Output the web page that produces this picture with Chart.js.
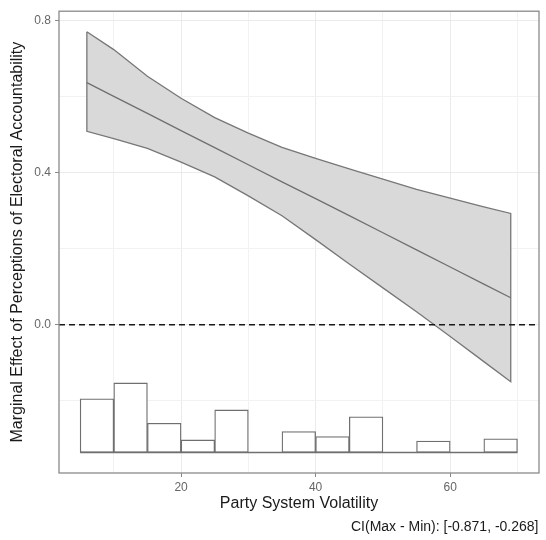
<!DOCTYPE html>
<html><head><meta charset="utf-8">
<script src="https://cdn.jsdelivr.net/npm/chart.js@4.4.0/dist/chart.umd.min.js"></script>
<style>html,body{margin:0;padding:0;background:#fff}#wrap{width:546px;height:540px;position:relative}</style>
</head><body><div id="wrap"><canvas id="c"></canvas></div>
<script>
// ---- data ----
const volatility = [6, 10, 15, 20, 25, 30, 35, 40, 45, 50, 55, 60, 65, 69];
const effect  = [0.637, 0.601, 0.556, 0.511, 0.466, 0.421, 0.376, 0.332, 0.287, 0.242, 0.197, 0.152, 0.107, 0.071];
const upperCI = [0.771, 0.724, 0.654, 0.596, 0.545, 0.504, 0.467, 0.438, 0.410, 0.383, 0.356, 0.333, 0.310, 0.293];
const lowerCI = [0.509, 0.490, 0.464, 0.428, 0.389, 0.339, 0.287, 0.224, 0.160, 0.097, 0.034, -0.031, -0.097, -0.150];

const binStarts = [5, 10, 15, 20, 25, 30, 35, 40, 45, 50, 55, 60, 65];
const binTops   = [-0.195, -0.153, -0.259, -0.303, -0.224, null, -0.281, -0.294, -0.242, null, -0.306, null, -0.300];
const histBase  = -0.336;
const binWidth  = 5;

const xTicks  = [10, 20, 30, 40, 50, 60, 70];
const xLabels = [20, 40, 60];
const yTicks  = [-0.2, 0, 0.2, 0.4, 0.6, 0.8];
const yLabels = [0, 0.4, 0.8];
const refLineY = 0;

const xTitle = 'Party System Volatility';
const yTitle = 'Marginal Effect of Perceptions of Electoral Accountability';
const caption = 'CI(Max - Min): [-0.871, -0.268]';

const X_MIN = 1.86, X_MAX = 73.2, Y_MIN = -0.39, Y_MAX = 0.825;

// ---- build datasets ----
const ribbon = volatility.map((x, i) => ({x, y: upperCI[i]}))
  .concat(volatility.map((x, i) => ({x, y: lowerCI[i]})).reverse());
ribbon.push({x: volatility[0], y: upperCI[0]});

const estLine = volatility.map((x, i) => ({x, y: effect[i]}));
const bars = binStarts.map((s, i) => binTops[i] == null ? null : {x: s + binWidth / 2, y: [histBase, binTops[i]]}).filter(Boolean);
const baseLine = [{x: binStarts[0], y: histBase}, {x: binStarts[binStarts.length - 1] + binWidth, y: histBase}];
const zeroLine = [{x: X_MIN, y: refLineY}, {x: X_MAX, y: refLineY}];

const FONT = "'Liberation Sans', Arial, Helvetica, sans-serif";
const isIn = (arr, v) => arr.some(a => Math.abs(a - v) < 1e-9);
const tickIn = (arr, c) => !!(c && c.tick && isIn(arr, c.tick.value));

const panelBorder = {
  id: 'panelBorder',
  afterDatasetsDraw(chart) {
    const {ctx, chartArea: a} = chart;
    ctx.save();
    ctx.strokeStyle = '#8a8a8a';
    ctx.lineWidth = 1.3;
    ctx.strokeRect(a.left, a.top, a.right - a.left, a.bottom - a.top);
    ctx.restore();
  },
  afterDraw(chart) {
    const {ctx} = chart;
    ctx.save();
    ctx.font = '14px ' + FONT;
    ctx.fillStyle = '#1a1a1a';
    ctx.textAlign = 'right';
    ctx.textBaseline = 'alphabetic';
    ctx.fillText(caption, 538.5, 531);
    ctx.restore();
  }
};

new Chart(document.getElementById('c'), {
  type: 'scatter',
  data: {
    datasets: [
      {type: 'line', data: zeroLine, borderColor: '#1a1a1a', borderWidth: 1.5, borderDash: [6, 4],
       pointRadius: 0, fill: false, order: 0},
      {type: 'line', data: estLine, borderColor: '#6f6f6f', borderWidth: 1.3,
       pointRadius: 0, fill: false, tension: 0, order: 1},
      {type: 'line', data: ribbon, borderColor: '#777777', borderWidth: 1.3, backgroundColor: '#d9d9d9',
       pointRadius: 0, fill: 'shape', tension: 0, order: 2},
      {type: 'line', data: baseLine, borderColor: '#6f6f6f', borderWidth: 1.3,
       pointRadius: 0, fill: false, order: 3},
      {type: 'bar', data: bars, backgroundColor: '#ffffff', borderColor: '#6f6f6f', borderWidth: 1.3,
       borderSkipped: false, barPercentage: 1, categoryPercentage: 1, grouped: false, order: 4}
    ]
  },
  options: {
    responsive: true,
    maintainAspectRatio: false,
    animation: false,
    devicePixelRatio: 1,
    layout: {padding: {top: 6, right: 7, bottom: 0, left: 0}},
    plugins: {legend: {display: false}, tooltip: {enabled: false}},
    scales: {
      x: {
        type: 'linear', min: X_MIN, max: X_MAX, offset: false,
        afterBuildTicks: s => { s.ticks = xTicks.map(v => ({value: v})); },
        afterFit: s => { s.height = 67; },
        border: {display: false},
        grid: {
          offset: false,
          color: c => tickIn(xLabels, c) ? '#ebebeb' : '#f2f2f2',
          lineWidth: 1, tickLength: 4,
          tickColor: c => tickIn(xLabels, c) ? '#8a8a8a' : 'rgba(0,0,0,0)'
        },
        ticks: {
          autoSkip: false, maxRotation: 0, padding: 3, color: '#666666',
          font: {family: FONT, size: 12},
          callback: v => isIn(xLabels, v) ? String(v) : ''
        },
        title: {display: true, text: xTitle, color: '#1a1a1a', font: {family: FONT, size: 16},
                padding: {top: 0, bottom: 27}}
      },
      y: {
        type: 'linear', min: Y_MIN, max: Y_MAX,
        afterBuildTicks: s => { s.ticks = yTicks.map(v => ({value: v})); },
        afterFit: s => { s.width = 59; },
        border: {display: false},
        grid: {
          offset: false,
          color: c => tickIn(yLabels, c) ? '#ebebeb' : '#f2f2f2',
          lineWidth: 1, tickLength: 4,
          tickColor: c => tickIn(yLabels, c) ? '#8a8a8a' : 'rgba(0,0,0,0)'
        },
        ticks: {
          autoSkip: false, padding: 4, color: '#666666',
          font: {family: FONT, size: 12},
          callback: v => isIn(yLabels, v) ? Number(v).toFixed(1) : ''
        },
        title: {display: true, text: yTitle, color: '#1a1a1a', font: {family: FONT, size: 16},
                padding: {top: 8, bottom: 0}}
      }
    }
  },
  plugins: [panelBorder]
});
</script>
</body></html>
